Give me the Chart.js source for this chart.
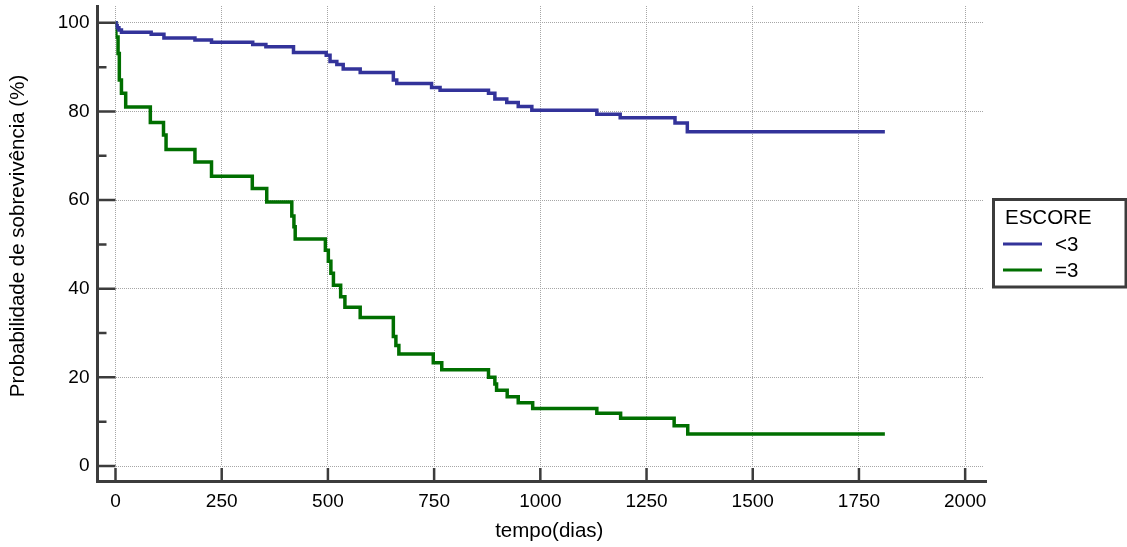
<!DOCTYPE html>
<html>
<head>
<meta charset="utf-8">
<script src="https://cdn.jsdelivr.net/npm/chart.js@4"></script>
<style>
  html, body { margin: 0; padding: 0; background: #ffffff; }
  #c { display: block; }
</style>
</head>
<body>
<canvas id="c" width="1127" height="547"></canvas>
<script>
// ---- Data ----
const seriesLabels = ['<3', '=3'];
const legendTitle = 'ESCORE';
const xTitle = 'tempo(dias)';
const yTitle = 'Probabilidade de sobrevivência (%)';

const blueTimes = [0, 1, 4, 8, 14, 84, 114, 187, 226, 323, 354, 419, 496, 505, 521, 536, 576, 654, 662, 744, 764, 878, 893, 921, 948, 980, 1133, 1188, 1317, 1346, 1811];
const blueSurv  = [100, 99.4, 98.9, 98.4, 97.9, 97.4, 96.6, 96.1, 95.6, 95.1, 94.6, 93.3, 92.7, 91.3, 90.6, 89.6, 88.8, 87.1, 86.3, 85.4, 84.8, 84.1, 82.8, 82.0, 81.1, 80.3, 79.4, 78.6, 77.4, 75.4, 75.4];

const greenTimes = [0, 1, 6, 9, 14, 24, 82, 113, 119, 187, 226, 322, 356, 415, 420, 423, 494, 501, 507, 513, 530, 540, 576, 654, 660, 667, 748, 768, 878, 893, 897, 922, 948, 982, 1133, 1189, 1315, 1347, 1811];
const greenSurv  = [100, 96.8, 93.1, 87.1, 84.1, 81.0, 77.5, 74.7, 71.4, 68.6, 65.4, 62.6, 59.6, 56.4, 54.0, 51.2, 48.7, 46.2, 43.5, 40.8, 38.2, 35.8, 33.5, 29.2, 27.2, 25.3, 23.3, 21.7, 20.0, 18.5, 17.1, 15.6, 14.3, 13.0, 11.9, 10.8, 9.1, 7.2, 7.2];

const xTicks = [0, 250, 500, 750, 1000, 1250, 1500, 1750, 2000];
const yTicks = [0, 20, 40, 60, 80, 100];
const yMinorTicks = [10, 30, 50, 70, 90];

const seriesColors = ['#33339a', '#006f00'];
const FONT = 'Arial, "Liberation Sans", sans-serif';
const AXIS_COLOR = '#3c3c3c';

function toPoints(ts, vs) { return ts.map((t, i) => ({ x: t, y: vs[i] })); }

// ---- Plugin: offset axis lines, tick marks, boxed legend ----
const decorPlugin = {
  id: 'decor',
  afterDraw(chart) {
    const ctx = chart.ctx;
    const xs = chart.scales.x, ys = chart.scales.y;
    const area = chart.chartArea;
    const axisX = area.left - 18;      // y-axis line position
    const axisY = area.bottom + 15.5;  // x-axis line position
    ctx.save();
    ctx.strokeStyle = AXIS_COLOR;
    ctx.lineCap = 'butt';
    // axis lines
    ctx.lineWidth = 3;
    ctx.beginPath();
    ctx.moveTo(axisX, area.top - 1);
    ctx.lineTo(axisX, axisY + 1.5);
    ctx.moveTo(axisX - 1.5, axisY);
    ctx.lineTo(area.right + 4, axisY);
    ctx.stroke();
    // y major ticks
    ctx.lineWidth = 2.5;
    ctx.beginPath();
    yTicks.forEach(v => {
      const p = ys.getPixelForValue(v);
      ctx.moveTo(axisX + 1.5, p);
      ctx.lineTo(area.left, p);
    });
    // y minor ticks
    yMinorTicks.forEach(v => {
      const p = ys.getPixelForValue(v);
      ctx.moveTo(axisX + 1.5, p);
      ctx.lineTo(axisX + 9, p);
    });
    // x major ticks
    xTicks.forEach(v => {
      const p = xs.getPixelForValue(v);
      ctx.moveTo(p, area.bottom + 2);
      ctx.lineTo(p, axisY - 1.5);
    });
    ctx.stroke();

    // legend box
    const bx = 993.5, by = 199.5, bw = 132.5, bh = 87.5;
    ctx.lineWidth = 3;
    ctx.strokeRect(bx, by, bw, bh);
    ctx.fillStyle = '#000';
    ctx.font = '20.5px ' + FONT;
    ctx.textBaseline = 'alphabetic';
    ctx.textAlign = 'left';
    ctx.fillText(legendTitle, bx + 11.5, by + 24.5);
    chart.data.datasets.forEach((ds, i) => {
      const ly = by + 44.5 + i * 26;
      ctx.strokeStyle = ds.borderColor;
      ctx.lineWidth = 3;
      ctx.beginPath();
      ctx.moveTo(bx + 9.5, ly);
      ctx.lineTo(bx + 48.5, ly);
      ctx.stroke();
      ctx.fillText(ds.label, bx + 61.5, ly + 6.5);
    });
    ctx.restore();
  }
};

new Chart(document.getElementById('c'), {
  type: 'line',
  data: {
    datasets: [
      {
        label: seriesLabels[0],
        data: toPoints(blueTimes, blueSurv),
        borderColor: seriesColors[0],
        backgroundColor: seriesColors[0],
        borderWidth: 3.5,
        pointRadius: 0,
        stepped: 'before',
        fill: false
      },
      {
        label: seriesLabels[1],
        data: toPoints(greenTimes, greenSurv),
        borderColor: seriesColors[1],
        backgroundColor: seriesColors[1],
        borderWidth: 3.5,
        pointRadius: 0,
        stepped: 'before',
        fill: false
      }
    ]
  },
  options: {
    responsive: false,
    animation: false,
    devicePixelRatio: 1,
    layout: { padding: { top: 6, right: 144, left: 0, bottom: 0 } },
    plugins: {
      legend: { display: false },
      tooltip: { enabled: false }
    },
    scales: {
      x: {
        type: 'linear',
        min: 0,
        max: 2042,
        afterBuildTicks: s => { s.ticks = xTicks.map(v => ({ value: v })); },
        afterFit: s => { s.height = 81; s.paddingLeft = 0; s.paddingRight = 0; },
        grid: { color: '#a6a6a6', lineWidth: 1, drawTicks: false },
        border: { display: false, dash: [1, 1] },
        ticks: {
          font: { family: FONT, size: 19 },
          color: '#000',
          padding: 24,
          maxRotation: 0,
          autoSkip: false,
          callback: v => String(v)
        },
        title: {
          display: true,
          text: xTitle,
          font: { family: FONT, size: 20.5 },
          color: '#000',
          padding: { top: 0, bottom: 3 }
        }
      },
      y: {
        type: 'linear',
        min: 0,
        max: 103.8,
        afterBuildTicks: s => { s.ticks = yTicks.map(v => ({ value: v })); },
        afterFit: s => { s.width = 115.5; s.paddingTop = 0; s.paddingBottom = 0; },
        grid: { color: '#a6a6a6', lineWidth: 1, drawTicks: false },
        border: { display: false, dash: [1, 1] },
        ticks: {
          font: { family: FONT, size: 19 },
          color: '#000',
          padding: 26,
          autoSkip: false,
          callback: v => String(v)
        },
        title: {
          display: true,
          text: yTitle,
          font: { family: FONT, size: 20.5 },
          color: '#000',
          padding: { top: 6, bottom: 0 }
        }
      }
    }
  },
  plugins: [decorPlugin]
});
</script>
</body>
</html>
